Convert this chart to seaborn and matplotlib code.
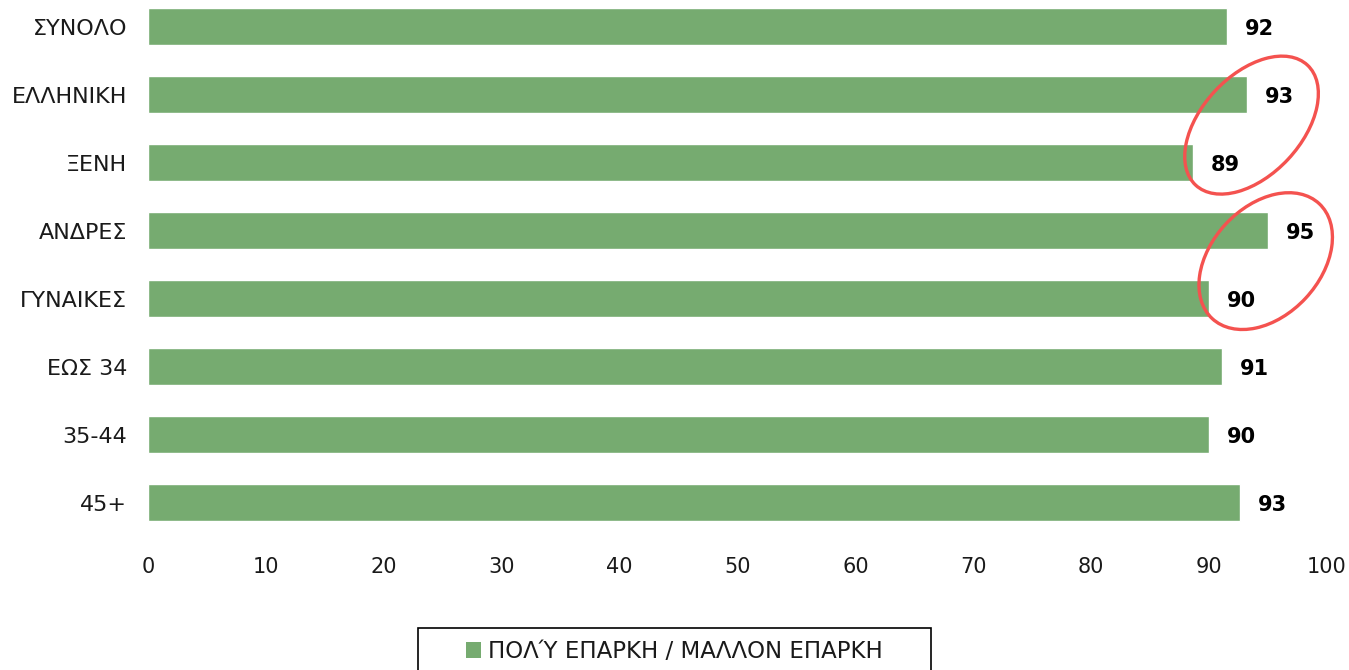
import pandas as pd
import matplotlib
matplotlib.use("Agg")
import matplotlib.pyplot as plt
import seaborn as sns
from matplotlib.patches import Ellipse, Patch, Rectangle
from matplotlib.transforms import IdentityTransform

# Data
categories = ["ΣΥΝΟΛΟ", "ΕΛΛΗΝΙΚΗ", "ΞΕΝΗ", "ΑΝΔΡΕΣ", "ΓΥΝΑΙΚΕΣ", "ΕΩΣ 34", "35-44", "45+"]
values = [91.5, 93.2, 88.6, 95.0, 90.0, 91.1, 90.0, 92.6]
labels = ["92", "93", "89", "95", "90", "91", "90", "93"]
series_name = "ΠΟΛΎ ΕΠΑΡΚΗ / ΜΑΛΛΟΝ ΕΠΑΡΚΗ"
xticks = [0, 10, 20, 30, 40, 50, 60, 70, 80, 90, 100]

df = pd.DataFrame({"group": categories, "value": values})

sns.set_style("white")
plt.rcParams["font.family"] = ["DejaVu Sans"]

green = "#76AB70"
red = "#F4524F"

fig = plt.figure(figsize=(13.49, 6.70), dpi=100)
ax = fig.add_axes([148 / 1349, 1 - 536.5 / 670, (1327 - 148) / 1349, 536.5 / 670])

sns.barplot(data=df, x="value", y="group", orient="h", color=green,
            width=0.544, saturation=1, ax=ax)

ax.set_xlim(0, 100)
ax.set_ylim(7.5, -0.39)
ax.set_xticks(xticks)
ax.set_xlabel("")
ax.set_ylabel("")
ax.tick_params(axis="both", length=0, colors="#1a1a1a")
ax.tick_params(axis="x", pad=15, labelsize=15)
ax.tick_params(axis="y", pad=15, labelsize=16)
sns.despine(ax=ax, left=True, bottom=True)

# value labels
for i, (v, lab) in enumerate(zip(values, labels)):
    ax.annotate(lab, (v, i), xytext=(13, -2), textcoords="offset points",
                ha="left", va="center", fontsize=15, fontweight="bold",
                color="black")

# red ellipses highlighting the comparisons
fig.canvas.draw()
for (xv, yv, w, h) in [(93.6, 1.45, 164, 100), (94.8, 3.45, 157, 109)]:
    cx, cy = ax.transData.transform((xv, yv))
    e = Ellipse((cx, cy), w, h, angle=47, fill=False, edgecolor=red,
                linewidth=2.4, transform=IdentityTransform(), clip_on=False)
    fig.add_artist(e)

handles = [Patch(facecolor=green, edgecolor="none", label=series_name)]
leg = fig.legend(handles=handles, loc="upper center",
                 bbox_to_anchor=(0.5, 1 - 640 / 670), frameon=False,
                 fontsize=16.5, handlelength=0.65, handleheight=0.65,
                 handletextpad=0.3, borderpad=0, borderaxespad=0,
                 labelcolor="#1a1a1a")

# legend box, wider than the entry like in the original
fig.canvas.draw()
bb = leg.get_window_extent()
box = Rectangle((bb.x0 - 48, -20), bb.width + 96, bb.y1 + 12 + 20,
                fill=False, edgecolor="black", linewidth=1.2,
                transform=IdentityTransform(), clip_on=False)
fig.add_artist(box)

fig.savefig("out.png", dpi=100)
